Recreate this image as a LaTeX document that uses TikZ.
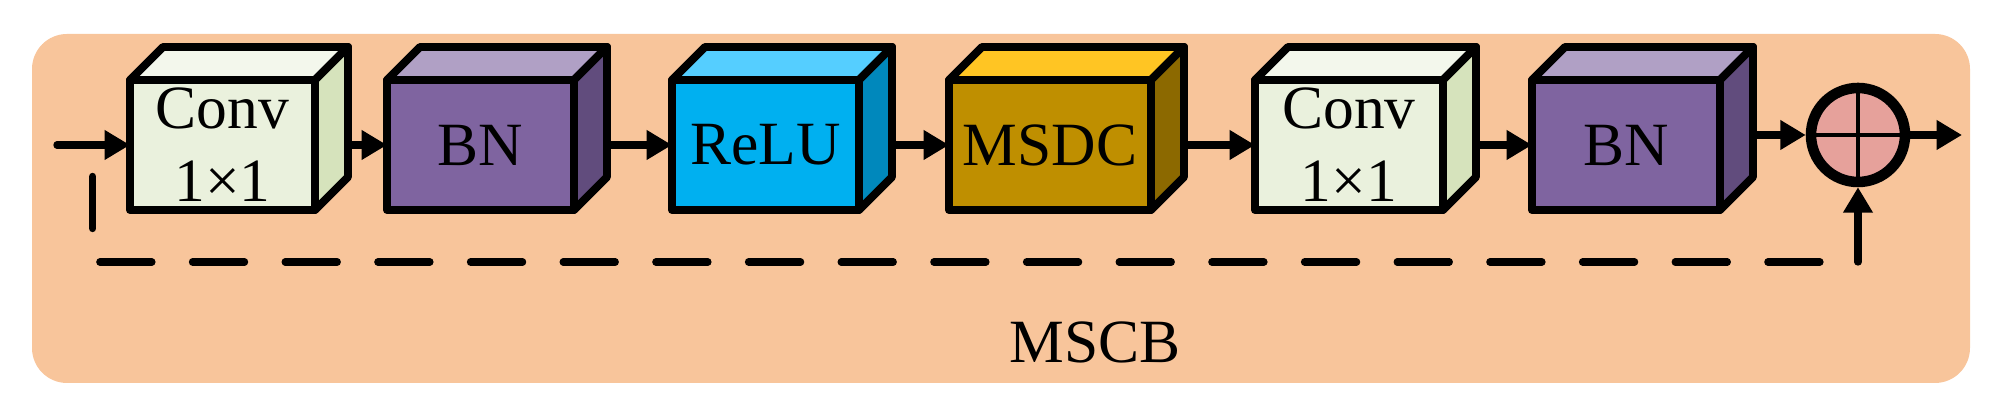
\documentclass[tikz,border=0pt]{standalone}
\usepackage{fontspec}
\setmainfont{Liberation Serif}
\usetikzlibrary{arrows.meta, positioning, calc}
\usepackage{xcolor}

\definecolor{bgpeach}{HTML}{F8C59B}
\definecolor{convfront}{HTML}{EAF1DD}
\definecolor{convtop}{HTML}{F3F7EC}
\definecolor{convside}{HTML}{D6E3BC}
\definecolor{bnfront}{HTML}{7F64A0}
\definecolor{bntop}{HTML}{B0A0C5}
\definecolor{bnside}{HTML}{614C7D}
\definecolor{relufront}{HTML}{00B0F0}
\definecolor{relutop}{HTML}{55CEFF}
\definecolor{reluside}{HTML}{0088BC}
\definecolor{msdcfront}{HTML}{BF8F00}
\definecolor{msdctop}{HTML}{FFC523}
\definecolor{msdcside}{HTML}{8C6900}
\definecolor{addpink}{HTML}{E6A19B}

\begin{document}
\begin{tikzpicture}[
    block/.style={draw, line width=2.25pt, line join=round, outer sep=0pt, inner sep=0pt,
      minimum height=1.30cm, align=center, font=\fontsize{17.5}{20.8}\selectfont},
    face/.style={draw, line width=2.25pt, line join=round},
    arr/.style={line width=2.1pt, line cap=round, -{Triangle[length=7.2pt, width=8pt]}},
  ]
  \useasboundingbox (0, 0) rectangle (20.05, 4.14);
  \fill[bgpeach, rounded corners=0.35cm] (0.32, 0.31) rectangle (19.70, 3.80);

  % blocks: front face as node, top and side drawn on it
  \def\dep{0.33}
  \foreach \n/\x/\w/\txt/\col in {conv1/2.225/1.85/{Conv\\1×1}/conv, bn1/4.805/1.87/BN/bn,
      relu/7.655/1.87/ReLU/relu, msdc/10.50/2.02/MSDC/msdc,
      conv2/13.49/1.88/{Conv\\1×1}/conv, bn2/16.26/1.88/BN/bn}
  {
    \node[block, minimum width=\w cm, fill=\col front] (\n) at (\x, 2.69) {\txt};
    \draw[face, fill=\col top] (\n.north west) -- ++(\dep, \dep) -- ++(\w, 0) -- (\n.north east) -- cycle;
    \draw[face, fill=\col side] (\n.north east) -- ++(\dep, \dep) -- ++(0, -1.30) -- (\n.south east) -- cycle;
  }

  \node[circle, draw, line width=3pt, fill=addpink, minimum size=0.94cm, inner sep=0pt] (add) at (18.58, 2.79) {};
  \draw[line width=1.4pt] (add.north) -- (add.south) (add.west) -- (add.east);

  \coordinate (in) at (0.57, 2.69);
  \coordinate (out) at (19.62, 2.79);
  \coordinate (skipA) at (0.927, 2.375);
  \coordinate (skipB) at (18.58, 1.52);

  \draw[arr] (in) -- (conv1.west);
  \draw[arr] ($(conv1.east)+(\dep, 0)$) -- (bn1.west);
  \draw[arr] ($(bn1.east)+(\dep, 0)$) -- (relu.west);
  \draw[arr] ($(relu.east)+(\dep, 0)$) -- (msdc.west);
  \draw[arr] ($(msdc.east)+(\dep, 0)$) -- (conv2.west);
  \draw[arr] ($(conv2.east)+(\dep, 0)$) -- (bn2.west);
  \draw[arr] ($(bn2.east |- add.west)+(\dep, 0)$) -- (add.west);
  \draw[arr] (add.east) -- (out);

  % skip connection
  \draw[line width=2.1pt, line cap=round, dash pattern=on 0.52cm off 0.4067cm] (skipA) |- (skipB);
  \draw[arr] (skipB) -- (add.south);

  \node[font=\fontsize{17.5}{20}\selectfont] (title) at (10.95, 0.72) {MSCB};
\end{tikzpicture}
\end{document}
